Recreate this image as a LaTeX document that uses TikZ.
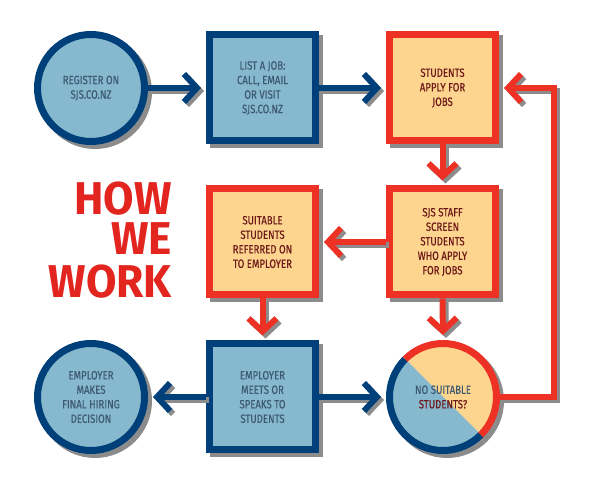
\documentclass[tikz,border=0pt]{standalone}
\usepackage{fontspec}
\setmainfont{Fira Sans}
\newfontfamily\narrowfont[FakeStretch=0.8,FakeBold=0.4]{Fira Sans}
\newfontfamily\titlefont[FakeStretch=0.96]{Fira Sans}
\usetikzlibrary{arrows.meta}
\definecolor{sjsblue}{RGB}{0,64,122}
\definecolor{sjssky}{RGB}{134,184,206}
\definecolor{sjsred}{RGB}{237,49,36}
\definecolor{sjspeach}{RGB}{253,213,142}
\definecolor{bluetext}{RGB}{62,90,115}
\definecolor{redtext}{RGB}{110,25,25}
\definecolor{titlered}{RGB}{226,37,30}
\definecolor{shadowgray}{RGB}{140,140,140}
\begin{document}
\begin{tikzpicture}[x=1pt,y=1pt,
  every node/.style={font=\narrowfont\fontsize{12}{14.5}\selectfont,align=center},
  shadowed/.style={preaction={draw=shadowgray,fill=shadowgray,transform canvas={shift={(4pt,-4pt)}}}},
  box/.style={rectangle,minimum size=106pt,inner sep=0pt,outer sep=3.5pt,line width=7pt},
  disc/.style={circle,minimum size=107pt,inner sep=0pt,outer sep=3.5pt,line width=7pt},
  bluestep/.style={shadowed,draw=sjsblue,fill=sjssky,text=bluetext},
  redstep/.style={shadowed,draw=sjsred,fill=sjspeach,text=redtext},
  link/.style={line width=6pt,line join=miter,-{Straight Barb[length=13pt,width=28pt,sharp]},shorten >=5pt},
  title/.style={font=\titlefont\bfseries\fontsize{46}{46}\selectfont,text=titlered,anchor=base east,
    inner sep=0pt,text height=33pt,text depth=0pt}]
\useasboundingbox (0,0) rectangle (595,486);
% steps
\node[disc,bluestep] (register) at (91,398) {REGISTER ON\\SJS.CO.NZ};
\node[box,bluestep] (listjob) at (262.5,398) {LIST A JOB:\\CALL, EMAIL\\OR VISIT\\SJS.CO.NZ};
\node[box,redstep] (apply) at (442.5,398) {STUDENTS\\APPLY FOR\\JOBS};
\node[box,redstep] (screen) at (442.5,244) {SJS STAFF\\SCREEN\\STUDENTS\\WHO APPLY\\FOR JOBS};
\node[box,redstep] (refer) at (262.5,244) {SUITABLE\\STUDENTS\\REFERRED ON\\TO EMPLOYER};
\node[box,bluestep] (meet) at (262.5,89) {EMPLOYER\\MEETS OR\\SPEAKS TO\\STUDENTS};
\node[disc,bluestep] (decide) at (91,89) {EMPLOYER\\MAKES\\FINAL HIRING\\DECISION};
\node[disc,shadowed,fill=sjspeach,path picture={
    \fill[sjssky] (path picture bounding box.north west) -- (path picture bounding box.south west)
      -- (path picture bounding box.south east) -- cycle;}]
  (nosuit) at (443,89) {{\color{bluetext}NO SUITABLE}\\{\color{redtext}STUDENTS?}};
\draw[sjsblue,line width=7pt] ([shift={(135:53.5)}]nosuit.center) arc[start angle=135,end angle=315,radius=53.5];
\draw[sjsred,line width=7pt] ([shift={(135:53.5)}]nosuit.center) arc[start angle=135,end angle=-45,radius=53.5];
% title
\node[title] (how) at (172,271) {HOW};
\node[title] (we) at (172,231) {WE};
\node[title] (work) at (172,188) {WORK};
% connectors, shadow first
\foreach \sh/\bc/\rc in {3pt/shadowgray/shadowgray,0pt/sjsblue/sjsred}{
  \begin{scope}[transform canvas={shift={(\sh,-\sh)}}]
    \draw[link,\bc] (register.east) -- (listjob.west);
    \draw[link,\bc] (listjob.east) -- (apply.west);
    \draw[link,\rc] (apply.south) -- (screen.north);
    \draw[link,\rc] (screen.west) -- (refer.east);
    \draw[link,\rc] (refer.south) -- (meet.north);
    \draw[link,\rc] (screen.south) -- (nosuit.north);
    \draw[link,\bc] (meet.west) -- (decide.east);
    \draw[link,\bc] (meet.east) -- (nosuit.west);
    \draw[link,\rc] (nosuit.east) -| (554,244) |- (apply.east);
  \end{scope}}
\end{tikzpicture}
\end{document}
